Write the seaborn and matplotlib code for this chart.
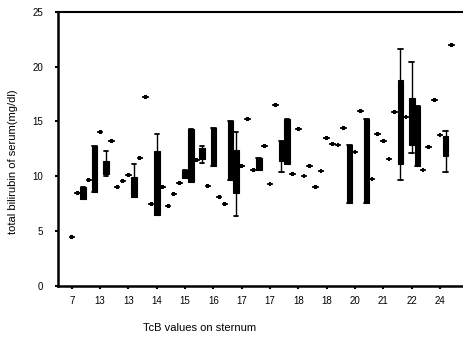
import numpy as np
import matplotlib
matplotlib.use("Agg")
import matplotlib.pyplot as plt
import seaborn as sns

sns.set_theme(style="ticks")
plt.rcParams["font.family"] = ["Liberation Sans", "DejaVu Sans"]

nan = np.nan

# box bottom / top of serum bilirubin per TcB reading (single readings: q1 == q3)
q1 = [4.5, 8.5, 7.9, 9.7, 8.6, 14.0, 10.2, 13.2, 9.0, 9.6,
      10.1, 8.1, 11.7, 17.2, 7.5, 6.5, 9.0, 7.3, 8.4, 9.4,
      9.8, 9.5, 11.45, 11.6, 9.1, 10.9, 8.15, 7.5, 9.7, 8.5,
      10.95, 15.2, 10.6, 10.6, 12.8, 9.3, 16.5, 11.35, 11.1, 10.2,
      14.3, 10.0, 10.9, 9.0, 10.5, 13.5, 12.95, 12.9, 14.45, 7.6,
      12.25, 15.95, 7.6, 9.75, 13.9, 13.25, 11.55, 15.9, 11.1, 15.4,
      12.9, 10.9, 10.6, 12.7, 16.95, 13.8, 11.85, 22.0]
q3 = [4.5, 8.5, 9.05, 9.7, 12.8, 14.0, 11.4, 13.2, 9.0, 9.6,
      10.1, 9.9, 11.7, 17.2, 7.5, 12.35, 9.0, 7.3, 8.4, 9.4,
      10.6, 14.3, 11.45, 12.6, 9.1, 14.4, 8.15, 7.5, 15.05, 12.4,
      10.95, 15.2, 10.6, 11.65, 12.8, 9.3, 16.5, 13.2, 15.2, 10.2,
      14.3, 10.0, 10.9, 9.0, 10.5, 13.5, 12.95, 12.9, 14.45, 12.9,
      12.25, 15.95, 15.2, 9.75, 13.9, 13.25, 11.55, 15.9, 18.8, 15.4,
      17.1, 16.4, 10.6, 12.7, 16.95, 13.8, 13.7, 22.0]
# whisker ends (nan = no whisker)
whis_lo = [nan] * len(q1)
whis_hi = [nan] * len(q1)
for i, lo, hi in [(6, 10.0, 12.3), (11, 8.1, 11.1), (15, nan, 13.9), (23, 11.2, 12.8),
                  (29, 6.4, 14.0), (37, 10.4, nan), (58, 9.7, 21.6), (60, 12.1, 20.4),
                  (66, 10.4, 14.1)]:
    whis_lo[i] = lo
    whis_hi[i] = hi

tick_labels = ["7", "13", "13", "14", "15", "16", "17", "17", "18", "18", "20", "21", "22", "24"]

stats = []
for a, b, lo, hi in zip(q1, q3, whis_lo, whis_hi):
    stats.append({
        "med": a, "q1": a, "q3": b,
        "whislo": a if np.isnan(lo) else lo,
        "whishi": b if np.isnan(hi) else hi,
        "fliers": [],
    })
single = [a == b for a, b in zip(q1, q3)]
widths = [0.5 if s else 1.0 for s in single]
pos = np.arange(len(q1))

fig = plt.figure(figsize=(4.63, 3.38), dpi=100)
ax = fig.add_axes([0.125, 0.154, 0.873, 0.811])

res = ax.bxp(stats, positions=pos, widths=widths, patch_artist=True,
             showfliers=False, manage_ticks=False, capwidths=0.8,
             boxprops=dict(facecolor="black", edgecolor="black", linewidth=0.8),
             whiskerprops=dict(color="black", linewidth=1.0),
             capprops=dict(color="black", linewidth=1.3),
             medianprops=dict(linewidth=0))
for box, s in zip(res["boxes"], single):
    if s:
        box.set_linewidth(2.9)
        box.set_joinstyle("round")

ax.set_xlim(-2.47, 68.9)
ax.set_ylim(0, 25)
ax.set_xticks(pos[::5])
ax.set_xticklabels(tick_labels)
ax.set_yticks([0, 5, 10, 15, 20, 25])

ax.tick_params(axis="both", direction="out", length=2.5, width=1.5,
               colors="black", labelsize=7)
ax.tick_params(axis="y", pad=8)
ax.tick_params(axis="x", pad=5)

for side in ["left", "bottom"]:
    ax.spines[side].set_linewidth(1.8)
    ax.spines[side].set_color("black")
ax.spines["top"].set_linewidth(1.5)
ax.spines["top"].set_color("black")
ax.spines["right"].set_visible(False)

ax.set_ylabel("total bilirubin of serum(mg/dl)", fontsize=8, color="black")
ax.set_xlabel("TcB values on sternum", fontsize=8, color="black")
ax.yaxis.set_label_coords(-0.099, 0.4526)
ax.xaxis.set_label_coords(0.351, -0.135)

fig.savefig("out.png", dpi=100, facecolor="white")
